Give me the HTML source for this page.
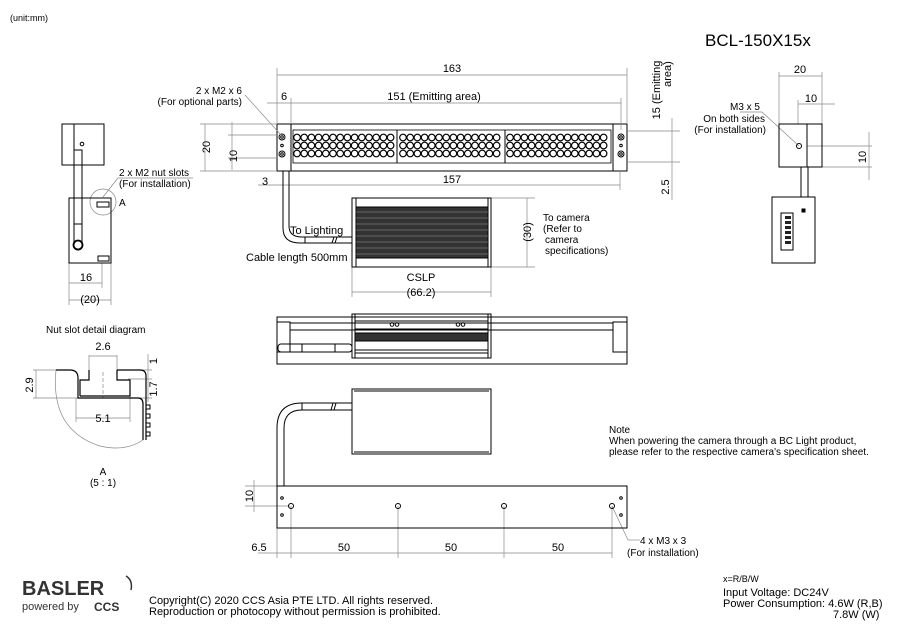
<!DOCTYPE html>
<html><head><meta charset="utf-8"><style>
body{margin:0;background:#fff;}
svg{display:block;font-family:"Liberation Sans",sans-serif;}
</style></head><body>
<svg width="900" height="635" viewBox="0 0 900 635" xmlns="http://www.w3.org/2000/svg">
<g fill="none" stroke="#000" stroke-width="1">
<rect x="277" y="124" width="350" height="47"/>
<line x1="291" y1="124" x2="291" y2="171"/>
<line x1="613" y1="124" x2="613" y2="171"/>
<rect x="293" y="130" width="318" height="33" stroke-width="0.8"/>
<line x1="397" y1="130" x2="397" y2="163"/>
<line x1="505" y1="130" x2="505" y2="163"/>
<circle cx="282" cy="137" r="3"/><circle cx="282" cy="137" r="1.3"/>
<circle cx="282" cy="154" r="3"/><circle cx="282" cy="154" r="1.3"/>
<circle cx="282" cy="145.5" r="1.3"/>
<circle cx="621" cy="137" r="3"/><circle cx="621" cy="137" r="1.3"/>
<circle cx="621" cy="154" r="3"/><circle cx="621" cy="154" r="1.3"/>
<circle cx="621" cy="145.5" r="1.3"/>
</g>
<g fill="none" stroke="#000" stroke-width="1.2">
<circle cx="297" cy="137.5" r="3.3"/><circle cx="297" cy="145.5" r="3.3"/><circle cx="297" cy="153.5" r="3.3"/>
<circle cx="304.2" cy="137.5" r="3.3"/><circle cx="304.2" cy="145.5" r="3.3"/><circle cx="304.2" cy="153.5" r="3.3"/>
<circle cx="311.4" cy="137.5" r="3.3"/><circle cx="311.4" cy="145.5" r="3.3"/><circle cx="311.4" cy="153.5" r="3.3"/>
<circle cx="318.6" cy="137.5" r="3.3"/><circle cx="318.6" cy="145.5" r="3.3"/><circle cx="318.6" cy="153.5" r="3.3"/>
<circle cx="325.8" cy="137.5" r="3.3"/><circle cx="325.8" cy="145.5" r="3.3"/><circle cx="325.8" cy="153.5" r="3.3"/>
<circle cx="333" cy="137.5" r="3.3"/><circle cx="333" cy="145.5" r="3.3"/><circle cx="333" cy="153.5" r="3.3"/>
<circle cx="340.2" cy="137.5" r="3.3"/><circle cx="340.2" cy="145.5" r="3.3"/><circle cx="340.2" cy="153.5" r="3.3"/>
<circle cx="347.4" cy="137.5" r="3.3"/><circle cx="347.4" cy="145.5" r="3.3"/><circle cx="347.4" cy="153.5" r="3.3"/>
<circle cx="354.6" cy="137.5" r="3.3"/><circle cx="354.6" cy="145.5" r="3.3"/><circle cx="354.6" cy="153.5" r="3.3"/>
<circle cx="361.8" cy="137.5" r="3.3"/><circle cx="361.8" cy="145.5" r="3.3"/><circle cx="361.8" cy="153.5" r="3.3"/>
<circle cx="369" cy="137.5" r="3.3"/><circle cx="369" cy="145.5" r="3.3"/><circle cx="369" cy="153.5" r="3.3"/>
<circle cx="376.2" cy="137.5" r="3.3"/><circle cx="376.2" cy="145.5" r="3.3"/><circle cx="376.2" cy="153.5" r="3.3"/>
<circle cx="383.4" cy="137.5" r="3.3"/><circle cx="383.4" cy="145.5" r="3.3"/><circle cx="383.4" cy="153.5" r="3.3"/>
<circle cx="390.6" cy="137.5" r="3.3"/><circle cx="390.6" cy="145.5" r="3.3"/><circle cx="390.6" cy="153.5" r="3.3"/>
<circle cx="403" cy="137.5" r="3.3"/><circle cx="403" cy="145.5" r="3.3"/><circle cx="403" cy="153.5" r="3.3"/>
<circle cx="410.2" cy="137.5" r="3.3"/><circle cx="410.2" cy="145.5" r="3.3"/><circle cx="410.2" cy="153.5" r="3.3"/>
<circle cx="417.4" cy="137.5" r="3.3"/><circle cx="417.4" cy="145.5" r="3.3"/><circle cx="417.4" cy="153.5" r="3.3"/>
<circle cx="424.6" cy="137.5" r="3.3"/><circle cx="424.6" cy="145.5" r="3.3"/><circle cx="424.6" cy="153.5" r="3.3"/>
<circle cx="431.8" cy="137.5" r="3.3"/><circle cx="431.8" cy="145.5" r="3.3"/><circle cx="431.8" cy="153.5" r="3.3"/>
<circle cx="439" cy="137.5" r="3.3"/><circle cx="439" cy="145.5" r="3.3"/><circle cx="439" cy="153.5" r="3.3"/>
<circle cx="446.2" cy="137.5" r="3.3"/><circle cx="446.2" cy="145.5" r="3.3"/><circle cx="446.2" cy="153.5" r="3.3"/>
<circle cx="453.4" cy="137.5" r="3.3"/><circle cx="453.4" cy="145.5" r="3.3"/><circle cx="453.4" cy="153.5" r="3.3"/>
<circle cx="460.6" cy="137.5" r="3.3"/><circle cx="460.6" cy="145.5" r="3.3"/><circle cx="460.6" cy="153.5" r="3.3"/>
<circle cx="467.8" cy="137.5" r="3.3"/><circle cx="467.8" cy="145.5" r="3.3"/><circle cx="467.8" cy="153.5" r="3.3"/>
<circle cx="475" cy="137.5" r="3.3"/><circle cx="475" cy="145.5" r="3.3"/><circle cx="475" cy="153.5" r="3.3"/>
<circle cx="482.2" cy="137.5" r="3.3"/><circle cx="482.2" cy="145.5" r="3.3"/><circle cx="482.2" cy="153.5" r="3.3"/>
<circle cx="489.4" cy="137.5" r="3.3"/><circle cx="489.4" cy="145.5" r="3.3"/><circle cx="489.4" cy="153.5" r="3.3"/>
<circle cx="496.6" cy="137.5" r="3.3"/><circle cx="496.6" cy="145.5" r="3.3"/><circle cx="496.6" cy="153.5" r="3.3"/>
<circle cx="510" cy="137.5" r="3.3"/><circle cx="510" cy="145.5" r="3.3"/><circle cx="510" cy="153.5" r="3.3"/>
<circle cx="517.2" cy="137.5" r="3.3"/><circle cx="517.2" cy="145.5" r="3.3"/><circle cx="517.2" cy="153.5" r="3.3"/>
<circle cx="524.4" cy="137.5" r="3.3"/><circle cx="524.4" cy="145.5" r="3.3"/><circle cx="524.4" cy="153.5" r="3.3"/>
<circle cx="531.6" cy="137.5" r="3.3"/><circle cx="531.6" cy="145.5" r="3.3"/><circle cx="531.6" cy="153.5" r="3.3"/>
<circle cx="538.8" cy="137.5" r="3.3"/><circle cx="538.8" cy="145.5" r="3.3"/><circle cx="538.8" cy="153.5" r="3.3"/>
<circle cx="546" cy="137.5" r="3.3"/><circle cx="546" cy="145.5" r="3.3"/><circle cx="546" cy="153.5" r="3.3"/>
<circle cx="553.2" cy="137.5" r="3.3"/><circle cx="553.2" cy="145.5" r="3.3"/><circle cx="553.2" cy="153.5" r="3.3"/>
<circle cx="560.4" cy="137.5" r="3.3"/><circle cx="560.4" cy="145.5" r="3.3"/><circle cx="560.4" cy="153.5" r="3.3"/>
<circle cx="567.6" cy="137.5" r="3.3"/><circle cx="567.6" cy="145.5" r="3.3"/><circle cx="567.6" cy="153.5" r="3.3"/>
<circle cx="574.8" cy="137.5" r="3.3"/><circle cx="574.8" cy="145.5" r="3.3"/><circle cx="574.8" cy="153.5" r="3.3"/>
<circle cx="582" cy="137.5" r="3.3"/><circle cx="582" cy="145.5" r="3.3"/><circle cx="582" cy="153.5" r="3.3"/>
<circle cx="589.2" cy="137.5" r="3.3"/><circle cx="589.2" cy="145.5" r="3.3"/><circle cx="589.2" cy="153.5" r="3.3"/>
<circle cx="596.4" cy="137.5" r="3.3"/><circle cx="596.4" cy="145.5" r="3.3"/><circle cx="596.4" cy="153.5" r="3.3"/>
<circle cx="603.6" cy="137.5" r="3.3"/><circle cx="603.6" cy="145.5" r="3.3"/><circle cx="603.6" cy="153.5" r="3.3"/>
</g>

<g fill="none" stroke="#888" stroke-width="0.7">
<line x1="277" y1="68" x2="277" y2="124"/><line x1="627" y1="68" x2="627" y2="124"/>
<line x1="277" y1="75" x2="627" y2="75"/>
<line x1="291" y1="98" x2="291" y2="124"/><line x1="621" y1="98" x2="621" y2="130"/>
<line x1="267" y1="103" x2="621" y2="103"/>
<line x1="283" y1="171" x2="283" y2="190"/><line x1="620" y1="171" x2="620" y2="190"/>
<line x1="258" y1="185" x2="620" y2="185"/>
<line x1="200" y1="124" x2="277" y2="124"/><line x1="200" y1="171" x2="277" y2="171"/>
<line x1="205" y1="124" x2="205" y2="171"/>
<line x1="228" y1="135" x2="277" y2="135"/><line x1="228" y1="158" x2="277" y2="158"/>
<line x1="232" y1="122" x2="232" y2="170"/>
<line x1="627" y1="131" x2="680" y2="131"/><line x1="627" y1="162" x2="680" y2="162"/>
<line x1="672" y1="118" x2="672" y2="200"/>
<line x1="245" y1="95" x2="281" y2="135"/>
<line x1="491" y1="198" x2="535" y2="198"/><line x1="491" y1="267" x2="535" y2="267"/>
<line x1="527" y1="198" x2="527" y2="267"/>
<line x1="352" y1="267" x2="352" y2="297"/><line x1="491" y1="267" x2="491" y2="297"/>
<line x1="352" y1="292" x2="491" y2="292"/>
<line x1="779" y1="72" x2="779" y2="124"/><line x1="822" y1="72" x2="822" y2="124"/>
<line x1="779" y1="76" x2="822" y2="76"/>
<line x1="798" y1="100" x2="798" y2="124"/><line x1="798" y1="104" x2="835" y2="104"/>
<line x1="807" y1="146" x2="872" y2="146"/><line x1="822" y1="167" x2="872" y2="167"/>
<line x1="869" y1="132" x2="869" y2="180"/>
<line x1="740" y1="112" x2="762" y2="112"/><line x1="762" y1="112" x2="799" y2="146"/>
<line x1="69" y1="263" x2="69" y2="305"/><line x1="102" y1="263" x2="102" y2="288"/><line x1="111" y1="263" x2="111" y2="305"/>
<line x1="69" y1="283" x2="102" y2="283"/><line x1="69" y1="300" x2="111" y2="300"/>
<line x1="103" y1="197" x2="118" y2="178"/><line x1="118" y1="178" x2="193" y2="178"/>
<circle cx="103" cy="202" r="13"/>
<line x1="89" y1="355" x2="89" y2="372"/><line x1="117" y1="355" x2="117" y2="372"/>
<line x1="89" y1="356" x2="117" y2="356"/>
<line x1="33" y1="370" x2="60" y2="370"/><line x1="33" y1="398" x2="80" y2="398"/>
<line x1="36" y1="370" x2="36" y2="398"/>
<line x1="130" y1="370" x2="152" y2="370"/><line x1="128" y1="398" x2="152" y2="398"/>
<line x1="148" y1="354" x2="148" y2="402"/><line x1="128" y1="379" x2="152" y2="379"/>
<line x1="76" y1="398" x2="76" y2="422"/><line x1="130" y1="390" x2="130" y2="422"/>
<line x1="76" y1="418" x2="130" y2="418"/>
<line x1="103" y1="372" x2="103" y2="398" stroke-dasharray="4 2"/>
<path d="M56 370 Q50 430 100 446 Q125 452 143 440"/>
<line x1="277" y1="528" x2="277" y2="558"/>
<line x1="291" y1="506" x2="291" y2="558"/><line x1="398" y1="506" x2="398" y2="558"/>
<line x1="504" y1="506" x2="504" y2="558"/><line x1="612" y1="506" x2="612" y2="558"/>
<line x1="258" y1="553" x2="612" y2="553"/>
<line x1="245" y1="486" x2="277" y2="486"/><line x1="245" y1="506" x2="290" y2="506"/>
<line x1="254" y1="480" x2="254" y2="512"/>
<line x1="612" y1="506" x2="628" y2="540"/><line x1="628" y1="540" x2="640" y2="540"/>
</g>

<g fill="none" stroke="#000" stroke-width="1">
<path d="M283 171 V228 Q283 243 300 243 H352"/>
<path d="M289 171 V226 Q289 237 302 237 H352"/>
<line x1="305" y1="237" x2="305" y2="243"/><line x1="334" y1="237" x2="332" y2="243"/><line x1="337" y1="237" x2="335" y2="243"/>
<rect x="352" y="198" width="139" height="69"/>
<line x1="356" y1="198" x2="356" y2="267"/><line x1="488" y1="198" x2="488" y2="267"/>
<rect x="356" y="207" width="132" height="51" fill="#333"/>
<g stroke="#999" stroke-width="0.6"><line x1="356" y1="212" x2="488" y2="212"/><line x1="356" y1="218" x2="488" y2="218"/><line x1="356" y1="224" x2="488" y2="224"/><line x1="356" y1="230" x2="488" y2="230"/><line x1="356" y1="236" x2="488" y2="236"/><line x1="356" y1="242" x2="488" y2="242"/><line x1="356" y1="248" x2="488" y2="248"/><line x1="356" y1="254" x2="488" y2="254"/></g>

<rect x="277" y="317" width="350" height="47"/>
<rect x="277" y="322" width="13" height="30"/>
<rect x="613" y="322" width="14" height="30"/>
<line x1="290" y1="323" x2="613" y2="323"/><line x1="290" y1="330" x2="613" y2="330"/>
<rect x="278" y="344" width="74" height="8" rx="3"/>
<line x1="302" y1="344" x2="302" y2="352"/><line x1="335" y1="344" x2="335" y2="352"/>
<rect x="352" y="314" width="139" height="44"/>
<line x1="355" y1="314" x2="355" y2="358"/><line x1="488" y1="314" x2="488" y2="358"/>
<line x1="355" y1="321" x2="488" y2="321"/><line x1="355" y1="329" x2="488" y2="329"/>
<rect x="355" y="333" width="133" height="8" fill="#333"/>
<line x1="355" y1="350" x2="488" y2="350"/><line x1="355" y1="353" x2="488" y2="353"/>
<circle cx="392" cy="324.5" r="1.8"/><circle cx="397" cy="324.5" r="1.8"/>
<circle cx="458" cy="324.5" r="1.8"/><circle cx="463" cy="324.5" r="1.8"/>

<rect x="352" y="389" width="139" height="65"/>
<line x1="354" y1="391" x2="489" y2="391"/><line x1="354" y1="452" x2="489" y2="452"/>
<path d="M277 486 V428 Q277 403 302 403 H352"/>
<path d="M284 486 V428 Q284 410 302 410 H352"/>
<line x1="302" y1="403" x2="302" y2="410"/><line x1="333" y1="403" x2="331" y2="410"/><line x1="336" y1="403" x2="334" y2="410"/>
<rect x="277" y="486" width="350" height="42"/>
<circle cx="291" cy="506" r="2.5"/><circle cx="398" cy="506" r="2.5"/><circle cx="504" cy="506" r="2.5"/><circle cx="612" cy="506" r="2.5"/>
<circle cx="282" cy="498" r="1.3"/><circle cx="282" cy="515" r="1.3"/>
<circle cx="621" cy="498" r="1.3"/><circle cx="621" cy="515" r="1.3"/>

<rect x="62" y="124" width="42" height="41"/>
<line x1="74" y1="124" x2="74" y2="165"/>
<circle cx="82" cy="144" r="1.8"/>
<rect x="69" y="198" width="42" height="65"/>
<path d="M74 150 V246 A4 4 0 0 0 82 246 V150 Z"/>
<line x1="74" y1="224" x2="82" y2="224"/>
<circle cx="78" cy="245" r="4.5" stroke-width="1.8"/>
<rect x="97" y="202" width="12" height="5"/>
<rect x="98" y="256" width="11" height="5"/>
<path d="M56 370 H70 Q78 370 78 378 V398 H88 V398 H118 V398 H138 Q143 398 143 404 V440" stroke-width="1.2"/>
<path d="M89 370 V380 H80 V396 M117 370 V380 H130 V396 H80" stroke-width="1.2"/>
<path d="M117 370 H140 Q146 370 146 376 V440" stroke-width="1.2"/>
<path d="M146 405 h4 v4 h-4 M146 414 h4 v4 h-4 M146 423 h4 v4 h-4 M146 432 h4 v4 h-4"/>

<rect x="779" y="124" width="43" height="43"/>
<line x1="807" y1="124" x2="807" y2="167"/>
<circle cx="799" cy="146" r="2.5"/>
<line x1="801" y1="167" x2="801" y2="197"/><line x1="808" y1="167" x2="808" y2="197"/>
<rect x="772" y="197" width="43" height="66"/>
<rect x="781" y="213" width="12" height="37"/>
<rect x="802" y="209" width="3" height="3" fill="#000"/>
</g>
<g fill="#222"><rect x="785" y="216" width="6" height="3"/><rect x="785" y="221" width="6" height="3"/><rect x="785" y="226" width="6" height="3"/><rect x="785" y="231" width="6" height="3"/><rect x="785" y="236" width="6" height="3"/><rect x="785" y="241" width="6" height="3"/></g>

<g font-size="11" fill="#000">
<text x="10" y="21" font-size="9">(unit:mm)</text>
<text x="705" y="46" font-size="17">BCL-150X15x</text>
<text x="452" y="72" text-anchor="middle">163</text>
<text x="284" y="100" text-anchor="middle">6</text>
<text x="434" y="100" text-anchor="middle">151 (Emitting area)</text>
<text x="265" y="185" text-anchor="middle">3</text>
<text x="452" y="183" text-anchor="middle">157</text>
<text x="242" y="94" text-anchor="end" font-size="10">2 x M2 x 6</text>
<text x="242" y="105" text-anchor="end" font-size="10">(For optional parts)</text>
<text transform="translate(210 147) rotate(-90)" text-anchor="middle">20</text>
<text transform="translate(237 156) rotate(-90)" text-anchor="middle">10</text>
<text transform="translate(660 90) rotate(-90)" text-anchor="middle">15 (Emitting</text>
<text transform="translate(671 74) rotate(-90)" text-anchor="middle">area)</text>
<text transform="translate(669 187) rotate(-90)" text-anchor="middle">2.5</text>
<text x="290" y="234">To Lighting</text>
<text x="246" y="261">Cable length 500mm</text>
<text x="421" y="281" text-anchor="middle">CSLP</text>
<text x="421" y="296" text-anchor="middle">(66.2)</text>
<text transform="translate(531 232) rotate(-90)" text-anchor="middle">(30)</text>
<text x="543" y="221" font-size="10">To camera</text>
<text x="543" y="232" font-size="10">(Refer to</text>
<text x="545" y="243" font-size="10">camera</text>
<text x="545" y="254" font-size="10">specifications)</text>
<text x="800" y="73" text-anchor="middle">20</text>
<text x="811" y="102" text-anchor="middle">10</text>
<text transform="translate(866 157) rotate(-90)" text-anchor="middle">10</text>
<text x="760" y="110" text-anchor="end" font-size="10">M3 x 5</text>
<text x="765" y="122" text-anchor="end" font-size="10">On both sides</text>
<text x="766" y="133" text-anchor="end" font-size="10">(For installation)</text>
<text x="119" y="176" font-size="10">2 x M2 nut slots</text>
<text x="119" y="187" font-size="10">(For installation)</text>
<text x="119" y="206" font-size="10">A</text>
<text x="86" y="281" text-anchor="middle">16</text>
<text x="90" y="303" text-anchor="middle">(20)</text>
<text x="46" y="333" font-size="10">Nut slot detail diagram</text>
<text x="103" y="350" text-anchor="middle">2.6</text>
<text transform="translate(33 385) rotate(-90)" text-anchor="middle">2.9</text>
<text transform="translate(157 361) rotate(-90)" text-anchor="middle">1</text>
<text transform="translate(157 389) rotate(-90)" text-anchor="middle">1.7</text>
<text x="103" y="422" text-anchor="middle">5.1</text>
<text x="103" y="475" text-anchor="middle" font-size="10">A</text>
<text x="103" y="486" text-anchor="middle" font-size="10">(5 : 1)</text>
<text transform="translate(253 496) rotate(-90)" text-anchor="middle">10</text>
<text x="259" y="551" text-anchor="middle">6.5</text>
<text x="344" y="551" text-anchor="middle">50</text>
<text x="451" y="551" text-anchor="middle">50</text>
<text x="558" y="551" text-anchor="middle">50</text>
<text x="640" y="544" font-size="10">4 x M3 x 3</text>
<text x="627" y="556" font-size="10">(For installation)</text>
<text x="609" y="433" font-size="10">Note</text>
<text x="609" y="444" font-size="10">When powering the camera through a BC Light product,</text>
<text x="609" y="455" font-size="10">please refer to the respective camera's specification sheet.</text>
<text x="149" y="604">Copyright(C) 2020 CCS Asia PTE LTD. All rights reserved.</text>
<text x="149" y="615">Reproduction or photocopy without permission is prohibited.</text>
<text x="723" y="582" font-size="9">x=R/B/W</text>
<text x="723" y="596">Input Voltage: DC24V</text>
<text x="723" y="607">Power Consumption: 4.6W (R,B)</text>
<text x="833" y="618">7.8W (W)</text>
<text x="22" y="595" font-size="20" font-weight="bold" fill="#333">BASLER</text>
<text x="22" y="610" font-size="11" fill="#333">powered by</text>
<text x="94" y="611" font-size="12" font-weight="bold" fill="#333">CCS</text>
</g>
<path d="M126 576 Q133 580 131 590" stroke="#333" fill="none" stroke-width="1.5"/>
</svg>
</body></html>
